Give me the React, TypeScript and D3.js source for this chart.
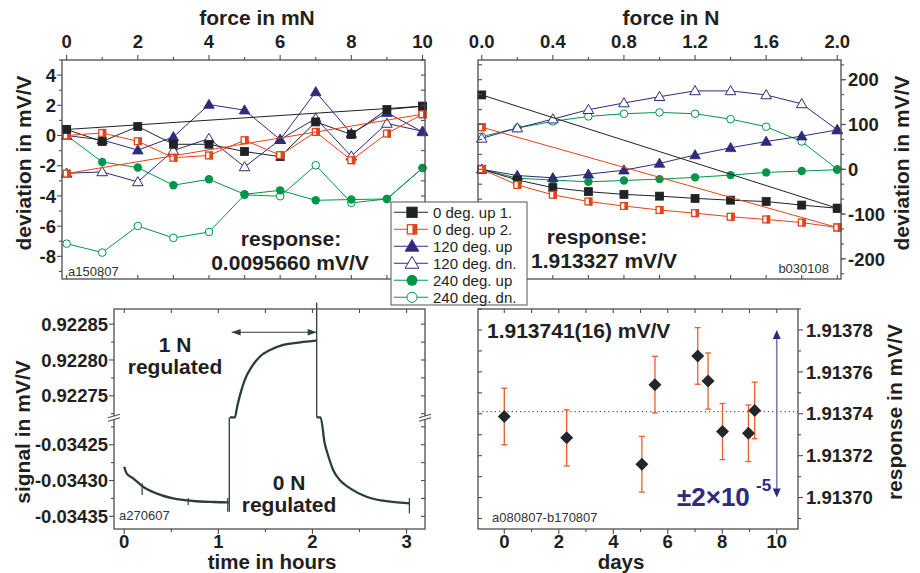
import React from 'react';
import * as d3 from 'd3';

const FONT = "'Liberation Sans', Arial, Helvetica, sans-serif";
const INK = '#231f20';
const FRAME = '#4e4e4e';
const C_BLACK = '#1f2326';
const C_ORANGE = '#e4441a';
const C_PURPLE = '#2e2a7c';
const C_GREEN = '#00964a';
const C_TRACE = '#2c3c41';
const C_ERR = '#e8602a';
const C_ARROW = '#2e2a7e';

// ---------- legend ----------
const LEGEND_LABELS = ['0 deg. up 1.', '0 deg. up 2.', '120 deg. up', '120 deg. dn.', '240 deg. up', '240 deg. dn.'];
const LEGEND_MARKERS = ['sq', 'half', 'tri', 'otri', 'circ', 'ocirc'];
const LEGEND_COLORS = [C_BLACK, C_ORANGE, C_PURPLE, C_PURPLE, C_GREEN, C_GREEN];

// ---------- top-left: force in mN ----------
const TL_FORCE = [0, 1, 2, 3, 4, 5, 6, 7, 8, 9, 10];
const TL_UP1 = [0.4, -0.4, 0.6, -0.58, -0.58, -1.06, -1.4, 0.9, 0.07, 1.72, 1.94];
const TL_UP2 = [0, 0.17, -0.38, -1.47, -1.32, -0.31, -1.3, 0.24, -1.64, 0.13, 1.41];
const TL_120UP = [0, -0.29, -0.97, -0.09, 2.05, 1.68, -0.27, 2.89, 0.13, 1.52, 0.24];
const TL_120DN = [-2.5, -2.41, -3.07, -1.0, -0.2, -2.08, -0.27, 1.13, -1.37, 0.8, 0.28];
const TL_240UP = [0, -1.75, -2.12, -3.29, -2.9, -3.89, -3.63, -4.29, -4.24, -4.2, -2.15];
const TL_240DN = [-7.16, -7.75, -5.99, -6.78, -6.39, -3.93, -4.02, -1.97, -4.46, -4.2, -2.15];
const TL_FIT_X = [0, 10];
const TL_FIT_UP1 = [0.4, 1.94];
const TL_FIT_UP2 = [-2.52, 1.41];
const TL_X_LABELS = ['0', '2', '4', '6', '8', '10'];
const TL_Y_LABELS = ['4', '2', '0', '-2', '-4', '-6', '-8'];

// ---------- top-right: force in N ----------
const TR_FORCE = [0, 0.2, 0.4, 0.6, 0.8, 1.0, 1.2, 1.4, 1.6, 1.8, 2.0];
const TR_UP1 = [0, -24, -41, -50, -56, -60, -65, -69, -72, -80, -87];
const TR_UP2 = [0, -35, -57, -72, -82, -91, -98, -106, -112, -119, -130];
const TR_120UP = [0, -14, -19, -11, -2, 13, 32, 48, 62, 74, 88];
const TR_120DN = [69, 92, 112, 133, 148, 162, 175, 175, 166, 146, 88];
const TR_240UP = [0, -20, -24, -28, -25, -22, -18, -13, -7, -4, -1];
const TR_240DN = [73, 92, 107, 118, 124, 127, 124, 112, 95, 62, 0];
const TR_FIT_X = [0, 2];
const TR_FIT_UP1 = [166, -87];
const TR_FIT_UP2 = [94, -130];
const TR_X_LABELS = ['0.0', '0.4', '0.8', '1.2', '1.6', '2.0'];
const TR_Y_LABELS = ['200', '100', '0', '-100', '-200'];

// ---------- bottom-left: signal vs time ----------
const BL_T1 = [0, 0.025, 0.095, 0.2, 0.34, 0.52, 0.73, 0.95, 1.11];
const BL_V1 = [-0.0342807, -0.03429, -0.034297, -0.0343087, -0.0343179, -0.0343249, -0.0343286, -0.03433, -0.0343305];
const BL_T2 = [1.123, 1.176, 1.2, 1.23, 1.28, 1.355, 1.44, 1.55, 1.69, 1.87, 2.04];
const BL_V2 = [0.9227, 0.922719, 0.9227348, 0.922751, 0.922772, 0.9227906, 0.9228046, 0.922814, 0.922821, 0.9228247, 0.922827];
const BL_T3 = [2.045, 2.086, 2.13, 2.165, 2.22, 2.29, 2.4, 2.575, 2.75, 2.93, 3.03];
const BL_V3 = [-0.0342, -0.0342117, -0.034248, -0.0342644, -0.0342853, -0.0342993, -0.0343109, -0.0343226, -0.0343282, -0.034331, -0.0343318];
const BL_SPIKE_T = [0.19, 0.68, 1.1, 3.03];
const BL_SPIKE_HI = [-0.0343039, -0.0343244, -0.0343244, -0.0343244];
const BL_SPIKE_LO = [-0.0343203, -0.0343342, -0.0343436, -0.0343458];
const BL_JUMP_UP_T = 1.116;
const BL_JUMP_UP_FROM = -0.0343436;
const BL_JUMP_DN_T = 2.045;
const BL_JUMP_DN_FROM = 0.92288;
const BL_ARROW_T = [1.141, 2.045];
const BL_ARROW_V = 0.9228387;
const BL_X_LABELS = ['0', '1', '2', '3'];
const BL_YU_LABELS = ['0.92285', '0.92280', '0.92275'];
const BL_YL_LABELS = ['-0.03425', '-0.03430', '-0.03435'];

// ---------- bottom-right: response vs days ----------
const BR_DAYS = [0.0, 2.29, 5.05, 5.53, 7.1, 7.48, 8.01, 8.96, 9.19];
const BR_RESP = [1.9137387, 1.9137285, 1.9137159, 1.9137539, 1.9137676, 1.9137556, 1.9137315, 1.9137307, 1.9137416];
const BR_ERR = [1.35e-5, 1.34e-5, 1.33e-5, 1.35e-5, 1.35e-5, 1.34e-5, 1.34e-5, 1.35e-5, 1.35e-5];
const BR_MEAN = 1.913741;
const BR_SPREAD_DAY = 10.0;
const BR_SPREAD = [1.91378, 1.9137];
const BR_X_LABELS = ['0', '2', '4', '6', '8', '10'];
const BR_Y_LABELS = ['1.91378', '1.91376', '1.91374', '1.91372', '1.91370'];

type Box = { x0: number; x1: number; y0: number; y1: number };
const TL: Box = { x0: 62, x1: 425, y0: 60, y1: 279 };
const TR: Box = { x0: 478, x1: 841, y0: 60, y1: 279 };
const BL: Box = { x0: 114, x1: 425, y0: 309, y1: 529 };
const BR: Box = { x0: 478, x1: 798, y0: 309, y1: 529 };
const BREAK_Y = 417.3;

function tickMarks(side: string, scale: any, vals: number[], len: number, out: boolean, b: Box, key: string) {
  const [d0, d1] = scale.domain();
  const lo = Math.min(d0, d1) - 1e-12, hi = Math.max(d0, d1) + 1e-12;
  return vals.filter(v => v >= lo && v <= hi).map((v, i) => {
    const p = scale(v);
    let x1 = 0, y1 = 0, x2 = 0, y2 = 0;
    if (side === 'top') { x1 = x2 = p; y1 = b.y0; y2 = b.y0 + (out ? -len : len); }
    else if (side === 'bottom') { x1 = x2 = p; y1 = b.y1; y2 = b.y1 + (out ? len : -len); }
    else if (side === 'left') { y1 = y2 = p; x1 = b.x0; x2 = b.x0 + (out ? -len : len); }
    else { y1 = y2 = p; x1 = b.x1; x2 = b.x1 + (out ? len : -len); }
    return <line key={key + i} x1={x1} y1={y1} x2={x2} y2={y2} stroke={FRAME} strokeWidth={1.1} />;
  });
}

function Marker({ kind, x, y, color, s = 1 }: { kind: string; x: number; y: number; color: string; s?: number }) {
  const a = 4 * s;
  if (kind === 'sq') return <rect x={x - a} y={y - a} width={2 * a} height={2 * a} fill={color} stroke={color} strokeWidth={0.8} />;
  if (kind === 'half') return (
    <g>
      <rect x={x - a + 0.6} y={y - a + 0.6} width={2 * a - 1.2} height={2 * a - 1.2} fill="#fff" stroke={color} strokeWidth={1.3} />
      <rect x={x + 0.4} y={y - a} width={a - 0.4} height={2 * a} fill={color} />
    </g>
  );
  if (kind === 'tri' || kind === 'otri') {
    const h = 5.3 * s;
    const pts = `${x},${y - h} ${x + h},${y + h * 0.72} ${x - h},${y + h * 0.72}`;
    return kind === 'tri'
      ? <polygon points={pts} fill={color} stroke={color} strokeWidth={0.8} strokeLinejoin="round" />
      : <polygon points={pts} fill="#fff" stroke={color} strokeWidth={1} />;
  }
  const r = 4.2 * s;
  return kind === 'circ'
    ? <circle cx={x} cy={y} r={r} fill={color} />
    : <circle cx={x} cy={y} r={r - 0.4} fill="#fff" stroke={color} strokeWidth={1} />;
}

function Series({ xs, ys, sx, sy, kind, color, k }: any) {
  const line = d3.line<number>().x((_, i) => sx(xs[i])).y(d => sy(d));
  return (
    <g>
      <path d={line(ys) || ''} fill="none" stroke={color} strokeWidth={1} />
      {ys.map((v: number, i: number) => <Marker key={k + i} kind={kind} x={sx(xs[i])} y={sy(v)} color={color} />)}
    </g>
  );
}

function BreakMark({ x, y }: { x: number; y: number }) {
  return (
    <g>
      <polygon points={`${x - 6},${y + 0.5} ${x + 6},${y - 3} ${x + 6},${y + 0.5} ${x - 6},${y + 4}`} fill="#fff" />
      <line x1={x - 6} y1={y + 0.5} x2={x + 6} y2={y - 3} stroke={FRAME} strokeWidth={1.1} />
      <line x1={x - 6} y1={y + 4} x2={x + 6} y2={y + 0.5} stroke={FRAME} strokeWidth={1.1} />
    </g>
  );
}

const num = (a: string[]) => a.map(Number);

export default function App() {
  const tlX = d3.scaleLinear().domain([-0.13, 10.07]).range([TL.x0, TL.x1]);
  const tlY = d3.scaleLinear().domain([-9.5, 5.0]).range([TL.y1, TL.y0]);
  const trX = d3.scaleLinear().domain([-0.021, 2.021]).range([TR.x0, TR.x1]);
  const trY = d3.scaleLinear().domain([-245, 244]).range([TR.y1, TR.y0]);
  const blX = d3.scaleLinear().domain([-0.109, 3.196]).range([BL.x0, BL.x1]);
  const blYU = d3.scaleLinear().domain([0.92272, 0.9228712]).range([BREAK_Y, BL.y0]).clamp(true);
  const blYUfree = blYU.copy().clamp(false);
  const blYL = d3.scaleLinear().domain([-0.0343677, -0.0342117]).range([BL.y1, BREAK_Y]).clamp(true);
  const brX = d3.scaleLinear().domain([-0.965, 10.78]).range([BR.x0, BR.x1]);
  const brY = d3.scaleLinear().domain([1.913685, 1.91379]).range([BR.y1, BR.y0]);

  const tlSeries = [
    { ys: TL_240DN, kind: 'ocirc', color: C_GREEN },
    { ys: TL_240UP, kind: 'circ', color: C_GREEN },
    { ys: TL_120DN, kind: 'otri', color: C_PURPLE },
    { ys: TL_120UP, kind: 'tri', color: C_PURPLE },
    { ys: TL_UP1, kind: 'sq', color: C_BLACK },
    { ys: TL_UP2, kind: 'half', color: C_ORANGE },
  ];
  const trSeries = [
    { ys: TR_240DN, kind: 'ocirc', color: C_GREEN },
    { ys: TR_240UP, kind: 'circ', color: C_GREEN },
    { ys: TR_120DN, kind: 'otri', color: C_PURPLE },
    { ys: TR_120UP, kind: 'tri', color: C_PURPLE },
    { ys: TR_UP1, kind: 'sq', color: C_BLACK },
    { ys: TR_UP2, kind: 'half', color: C_ORANGE },
  ];

  const tLine = (sy: any) => d3.line<number[]>().x(d => blX(d[0])).y(d => sy(d[1])).curve(d3.curveMonotoneX);
  const seg1 = BL_T1.map((t, i) => [t, BL_V1[i]]);
  const seg2 = BL_T2.map((t, i) => [t, BL_V2[i]]);
  const seg3 = BL_T3.map((t, i) => [t, BL_V3[i]]);

  const bold = { fontWeight: 'bold' as const, fill: INK };
  const lab = 18.5;
  const XLAB_Y = 548;
  const XTITLE_Y = 569;

  const headH = (x: number, y: number, dir: number) =>
    `${x},${y} ${x - dir * 9},${y - 3.2} ${x - dir * 9},${y + 3.2}`;

  return (
    <svg width={920} height={573} style={{ position: 'absolute', left: 0, top: 0, background: '#fff' }} fontFamily={FONT}>
      <rect width={920} height={573} fill="#fff" />

      {/* ================= TOP LEFT ================= */}
      <g>
        {tlSeries.map((s, i) => <Series key={'tl' + i} k={'tl' + i} xs={TL_FORCE} ys={s.ys} sx={tlX} sy={tlY} kind={s.kind} color={s.color} />)}
        <Series k="tlf1" xs={TL_FIT_X} ys={TL_FIT_UP1} sx={tlX} sy={tlY} kind="sq" color={C_BLACK} />
        <Series k="tlf2" xs={TL_FIT_X} ys={TL_FIT_UP2} sx={tlX} sy={tlY} kind="half" color={C_ORANGE} />
        <rect x={TL.x0} y={TL.y0} width={TL.x1 - TL.x0} height={TL.y1 - TL.y0} fill="none" stroke={FRAME} strokeWidth={1.3} />
        {tickMarks('top', tlX, num(TL_X_LABELS), 5, true, TL, 'tlt')}
        {tickMarks('top', tlX, d3.range(1, 10, 2), 3, true, TL, 'tltm')}
        {tickMarks('bottom', tlX, d3.range(0, 11, 1), 4, false, TL, 'tlb')}
        {tickMarks('left', tlY, num(TL_Y_LABELS), 5, true, TL, 'tll')}
        {tickMarks('left', tlY, d3.range(-9, 6, 2), 3, true, TL, 'tllm')}
        {tickMarks('right', tlY, d3.range(-9, 6, 1), 4, false, TL, 'tlr')}
        {TL_X_LABELS.map((l, i) => <text key={'tlxl' + i} x={tlX(+l)} y={48} textAnchor="middle" fontSize={lab} {...bold}>{l}</text>)}
        {TL_Y_LABELS.map((l, i) => <text key={'tlyl' + i} x={56} y={tlY(+l)} dy="0.36em" textAnchor="end" fontSize={lab} {...bold}>{l}</text>)}
        <text x={257} y={25} textAnchor="middle" fontSize={21} {...bold}>force in mN</text>
        <text transform="translate(31,163) rotate(-90)" textAnchor="middle" fontSize={21} {...bold}>deviation in mV/V</text>
        <text x={291} y={246} textAnchor="middle" fontSize={21} {...bold}>response:</text>
        <text x={290} y={270} textAnchor="middle" fontSize={21} {...bold}>0.0095660 mV/V</text>
        <text x={68} y={276} fontSize={13} fill="#333">a150807</text>
      </g>

      {/* ================= TOP RIGHT ================= */}
      <g>
        {trSeries.map((s, i) => <Series key={'tr' + i} k={'tr' + i} xs={TR_FORCE} ys={s.ys} sx={trX} sy={trY} kind={s.kind} color={s.color} />)}
        <Series k="trf1" xs={TR_FIT_X} ys={TR_FIT_UP1} sx={trX} sy={trY} kind="sq" color={C_BLACK} />
        <Series k="trf2" xs={TR_FIT_X} ys={TR_FIT_UP2} sx={trX} sy={trY} kind="half" color={C_ORANGE} />
        <rect x={TR.x0} y={TR.y0} width={TR.x1 - TR.x0} height={TR.y1 - TR.y0} fill="none" stroke={FRAME} strokeWidth={1.3} />
        {tickMarks('top', trX, num(TR_X_LABELS), 5, true, TR, 'trt')}
        {tickMarks('top', trX, [0.2, 0.6, 1.0, 1.4, 1.8], 3, true, TR, 'trtm')}
        {tickMarks('bottom', trX, TR_FORCE, 4, false, TR, 'trb')}
        {tickMarks('right', trY, num(TR_Y_LABELS), 5, true, TR, 'trr')}
        {tickMarks('right', trY, d3.range(-233.333, 240, 33.3333), 3, true, TR, 'trrm')}
        {tickMarks('left', trY, d3.range(-233.333, 240, 33.3333), 4, false, TR, 'trl')}
        {TR_X_LABELS.map((l, i) => <text key={'trxl' + i} x={trX(+l)} y={48} textAnchor="middle" fontSize={lab} {...bold}>{l}</text>)}
        {TR_Y_LABELS.map((l, i) => <text key={'tryl' + i} x={848} y={trY(+l)} dy="0.36em" textAnchor="start" fontSize={lab} {...bold}>{l}</text>)}
        <text x={671} y={25} textAnchor="middle" fontSize={21} {...bold}>force in N</text>
        <text transform="translate(909,163) rotate(-90)" textAnchor="middle" fontSize={21} {...bold}>deviation in mV/V</text>
        <text x={597} y={244} textAnchor="middle" fontSize={21} {...bold}>response:</text>
        <text x={604} y={268} textAnchor="middle" fontSize={21} {...bold}>1.913327 mV/V</text>
        <text x={829} y={273} textAnchor="end" fontSize={13} fill="#333">b030108</text>
      </g>

      {/* ================= BOTTOM LEFT ================= */}
      <g>
        <path d={tLine(blYL)(seg1 as any) || ''} fill="none" stroke={C_TRACE} strokeWidth={2.3} />
        <path d={tLine(blYU)(seg2 as any) || ''} fill="none" stroke={C_TRACE} strokeWidth={2.3} />
        <path d={tLine(blYL)(seg3 as any) || ''} fill="none" stroke={C_TRACE} strokeWidth={2.3} />
        <line x1={blX(BL_JUMP_UP_T)} x2={blX(BL_JUMP_UP_T)} y1={blYL(BL_JUMP_UP_FROM)} y2={BREAK_Y} stroke={C_TRACE} strokeWidth={1.3} />
        <line x1={blX(BL_JUMP_DN_T)} x2={blX(BL_JUMP_DN_T)} y1={blYUfree(BL_JUMP_DN_FROM)} y2={BREAK_Y} stroke={C_TRACE} strokeWidth={1.3} />
        {BL_SPIKE_T.map((t, i) => <line key={'sp' + i} x1={blX(t)} x2={blX(t)} y1={blYL(BL_SPIKE_HI[i])} y2={blYL(BL_SPIKE_LO[i])} stroke={C_TRACE} strokeWidth={1.2} />)}
        <line x1={blX(BL_ARROW_T[0])} x2={blX(BL_ARROW_T[1])} y1={blYU(BL_ARROW_V)} y2={blYU(BL_ARROW_V)} stroke={C_TRACE} strokeWidth={1.1} />
        <polygon points={headH(blX(BL_ARROW_T[0]), blYU(BL_ARROW_V), -1)} fill={C_TRACE} />
        <polygon points={headH(blX(BL_ARROW_T[1]), blYU(BL_ARROW_V), 1)} fill={C_TRACE} />
        <rect x={BL.x0} y={BL.y0} width={BL.x1 - BL.x0} height={BL.y1 - BL.y0} fill="none" stroke={FRAME} strokeWidth={1.3} />
        {tickMarks('bottom', blX, num(BL_X_LABELS), 5, true, BL, 'blb')}
        {tickMarks('bottom', blX, [0.5, 1.5, 2.5], 3, true, BL, 'blbm')}
        {tickMarks('top', blX, d3.range(0, 3.01, 0.5), 4, false, BL, 'blt')}
        {tickMarks('left', blYU, num(BL_YU_LABELS), 5, true, BL, 'blu')}
        {tickMarks('left', blYU, [0.922725, 0.922775, 0.922825], 3, true, BL, 'blum')}
        {tickMarks('left', blYL, num(BL_YL_LABELS), 5, true, BL, 'bll')}
        {tickMarks('left', blYL, [-0.034225, -0.034275, -0.034325], 3, true, BL, 'bllm')}
        {tickMarks('right', blYU, [0.922725, 0.92275, 0.922775, 0.9228, 0.922825, 0.92285], 4, false, BL, 'blru')}
        {tickMarks('right', blYL, [-0.034225, -0.03425, -0.034275, -0.0343, -0.034325, -0.03435], 4, false, BL, 'blrl')}
        <BreakMark x={BL.x0} y={BREAK_Y} />
        <BreakMark x={BL.x1} y={BREAK_Y} />
        {BL_X_LABELS.map((l, i) => <text key={'blxl' + i} x={blX(+l)} y={XLAB_Y} textAnchor="middle" fontSize={lab} {...bold}>{l}</text>)}
        {BL_YU_LABELS.map((l, i) => <text key={'blyu' + i} x={108} y={blYU(+l)} dy="0.36em" textAnchor="end" fontSize={lab} {...bold}>{l}</text>)}
        {BL_YL_LABELS.map((l, i) => <text key={'blyl' + i} x={108} y={blYL(+l)} dy="0.36em" textAnchor="end" fontSize={lab} {...bold}>{l}</text>)}
        <text x={272} y={XTITLE_Y} textAnchor="middle" fontSize={20.5} {...bold}>time in hours</text>
        <text transform="translate(30,432) rotate(-90)" textAnchor="middle" fontSize={21} {...bold}>signal in mV/V</text>
        <text x={175} y={352} textAnchor="middle" fontSize={21} {...bold}>1 N</text>
        <text x={175} y={374} textAnchor="middle" fontSize={21} {...bold}>regulated</text>
        <text x={289} y={490} textAnchor="middle" fontSize={21} {...bold}>0 N</text>
        <text x={289} y={512} textAnchor="middle" fontSize={21} {...bold}>regulated</text>
        <text x={119} y={520} fontSize={13} fill="#333">a270607</text>
      </g>

      {/* ================= BOTTOM RIGHT ================= */}
      <g>
        <line x1={BR.x0} x2={BR.x1} y1={brY(BR_MEAN)} y2={brY(BR_MEAN)} stroke="#333" strokeWidth={1} strokeDasharray="1.2,3" />
        {BR_DAYS.map((d, i) => {
          const x = brX(d);
          const yt = brY(BR_RESP[i] + BR_ERR[i]);
          const yb = brY(BR_RESP[i] - BR_ERR[i]);
          return (
            <g key={'eb' + i}>
              <line x1={x} x2={x} y1={yt} y2={yb} stroke={C_ERR} strokeWidth={1.3} />
              <line x1={x - 3} x2={x + 3} y1={yt} y2={yt} stroke={C_ERR} strokeWidth={1.3} />
              <line x1={x - 3} x2={x + 3} y1={yb} y2={yb} stroke={C_ERR} strokeWidth={1.3} />
            </g>
          );
        })}
        {BR_DAYS.map((d, i) => {
          const x = brX(d), y = brY(BR_RESP[i]);
          return <polygon key={'dm' + i} points={`${x},${y - 6.5} ${x + 6.5},${y} ${x},${y + 6.5} ${x - 6.5},${y}`} fill="#22282a" />;
        })}
        <line x1={brX(BR_SPREAD_DAY)} x2={brX(BR_SPREAD_DAY)} y1={brY(BR_SPREAD[0]) + 6} y2={brY(BR_SPREAD[1]) - 6} stroke="#8076b8" strokeWidth={1.6} />
        <polygon points={`${brX(BR_SPREAD_DAY)},${brY(BR_SPREAD[0])} ${brX(BR_SPREAD_DAY) + 4},${brY(BR_SPREAD[0]) + 9} ${brX(BR_SPREAD_DAY) - 4},${brY(BR_SPREAD[0]) + 9}`} fill={C_ARROW} />
        <polygon points={`${brX(BR_SPREAD_DAY)},${brY(BR_SPREAD[1])} ${brX(BR_SPREAD_DAY) + 4},${brY(BR_SPREAD[1]) - 9} ${brX(BR_SPREAD_DAY) - 4},${brY(BR_SPREAD[1]) - 9}`} fill={C_ARROW} />
        <rect x={BR.x0} y={BR.y0} width={BR.x1 - BR.x0} height={BR.y1 - BR.y0} fill="none" stroke={FRAME} strokeWidth={1.3} />
        {tickMarks('bottom', brX, num(BR_X_LABELS), 5, true, BR, 'brb')}
        {tickMarks('bottom', brX, [1, 3, 5, 7, 9], 3, true, BR, 'brbm')}
        {tickMarks('top', brX, d3.range(0, 11, 1), 4, false, BR, 'brt')}
        {tickMarks('right', brY, num(BR_Y_LABELS), 5, true, BR, 'brr')}
        {tickMarks('right', brY, [1.91369, 1.91371, 1.91373, 1.91375, 1.91377, 1.91379], 3, true, BR, 'brrm')}
        {tickMarks('left', brY, [1.91369, 1.9137, 1.91371, 1.91372, 1.91373, 1.91374, 1.91375, 1.91376, 1.91377, 1.91378, 1.91379], 4, false, BR, 'brl')}
        {BR_X_LABELS.map((l, i) => <text key={'brxl' + i} x={brX(+l)} y={XLAB_Y} textAnchor="middle" fontSize={lab} {...bold}>{l}</text>)}
        {BR_Y_LABELS.map((l, i) => <text key={'bryl' + i} x={806} y={brY(+l)} dy="0.36em" textAnchor="start" fontSize={lab} {...bold}>{l}</text>)}
        <text x={621} y={XTITLE_Y} textAnchor="middle" fontSize={20.5} {...bold}>days</text>
        <text transform="translate(902,412) rotate(-90)" textAnchor="middle" fontSize={21} {...bold}>response in mV/V</text>
        <text x={487} y={338} fontSize={21} {...bold}>1.913741(16) mV/V</text>
        <text x={677} y={506} fontSize={26} fontWeight="bold" fill={C_ARROW}>±2×10</text>
        <text x={756} y={491} fontSize={17} fontWeight="bold" fill={C_ARROW}>-5</text>
        <text x={492} y={521.5} fontSize={13} fill="#333">a080807-b170807</text>
      </g>

      {/* ================= LEGEND ================= */}
      <g>
        <rect x={391} y={202} width={136} height={103} fill="#fff" stroke="#555" strokeWidth={1} />
        {LEGEND_LABELS.map((l, i) => {
          const y = 212.3 + i * 17;
          return (
            <g key={'lg' + i}>
              <line x1={394} x2={428} y1={y} y2={y} stroke={LEGEND_COLORS[i]} strokeWidth={1.1} />
              <Marker kind={LEGEND_MARKERS[i]} x={412} y={y} color={LEGEND_COLORS[i]} s={1.3} />
              <text x={433} y={y} dy="0.36em" fontSize={15} fill={INK}>{l}</text>
            </g>
          );
        })}
      </g>
    </svg>
  );
}
